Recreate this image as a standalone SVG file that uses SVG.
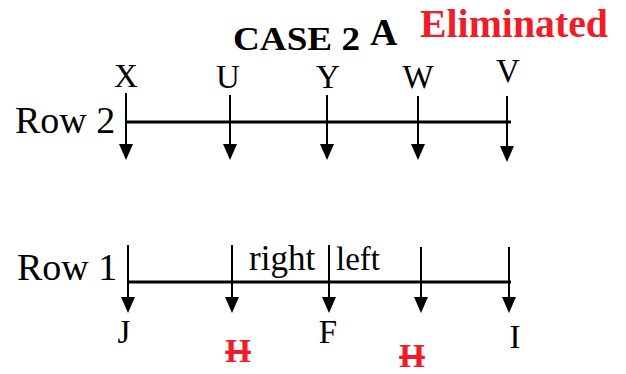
<svg xmlns="http://www.w3.org/2000/svg" width="626" height="374" viewBox="0 0 626 374">
<style>
.t{font-family:"Liberation Serif","Times New Roman",serif;fill:#000}
.lbl{font-size:33px;text-anchor:middle}
.row{font-size:38px}
.b{font-weight:bold}
.red{fill:#f01c28}
.ax{stroke:#000;stroke-width:3.2;fill:none}
.v{stroke:#000;stroke-width:2;fill:none;marker-end:url(#ah)}
</style>
<defs>
<marker id="ah" markerUnits="userSpaceOnUse" viewBox="0 -7 16 14" markerWidth="16" markerHeight="14" refX="14" refY="0" orient="auto">
<path d="M0,-7 L16,0 L0,7 z" fill="#000"/>
</marker>
</defs>
<g id="title">
<text class="t b" x="233" y="50" font-size="34" textLength="127" lengthAdjust="spacingAndGlyphs">CASE 2</text>
<text class="t b" x="370" y="45" font-size="38">A</text>
<text class="t b red" x="420" y="37" font-size="39" textLength="188" lengthAdjust="spacingAndGlyphs">Eliminated</text>
</g>
<g id="row2-label"><text class="t row" x="15" y="133">Row 2</text></g>
<g id="row1-label"><text class="t row" x="17" y="280">Row 1</text></g>
<g id="connectors">
<line class="ax" x1="125" y1="122" x2="511" y2="122"/>
<line class="v" x1="126" y1="93" x2="126" y2="158"/>
<line class="v" x1="230" y1="95" x2="230" y2="158"/>
<line class="v" x1="327" y1="95" x2="327" y2="158"/>
<line class="v" x1="418" y1="96" x2="418" y2="158"/>
<line class="v" x1="507" y1="96" x2="507" y2="160"/>
<line class="ax" x1="128" y1="282" x2="511" y2="282"/>
<line class="v" x1="128" y1="245" x2="128" y2="311"/>
<line class="v" x1="232" y1="245" x2="232" y2="311"/>
<line class="v" x1="329" y1="245" x2="329" y2="311"/>
<line class="v" x1="421" y1="247" x2="421" y2="311"/>
<line class="v" x1="509" y1="247" x2="509" y2="311"/>
</g>
<g id="node-X"><text class="t lbl" x="126" y="87">X</text></g>
<g id="node-U"><text class="t lbl" x="228" y="88">U</text></g>
<g id="node-Y"><text class="t lbl" x="328" y="88">Y</text></g>
<g id="node-W"><text class="t lbl" x="418" y="88">W</text></g>
<g id="node-V"><text class="t lbl" x="508" y="82">V</text></g>
<g id="label-right"><text class="t" x="249" y="270" font-size="35">right</text></g>
<g id="label-left"><text class="t" x="336" y="270" font-size="33">left</text></g>
<g id="node-J"><text class="t lbl" x="124" y="343">J</text></g>
<g id="node-H1"><text class="t lbl b red" x="238" y="362" font-size="39" text-decoration="line-through">H</text></g>
<g id="node-F"><text class="t lbl" x="328" y="343">F</text></g>
<g id="node-H2"><text class="t lbl b red" x="412" y="367" font-size="39" text-decoration="line-through">H</text></g>
<g id="node-I"><text class="t lbl" x="515" y="348">I</text></g>
</svg>
